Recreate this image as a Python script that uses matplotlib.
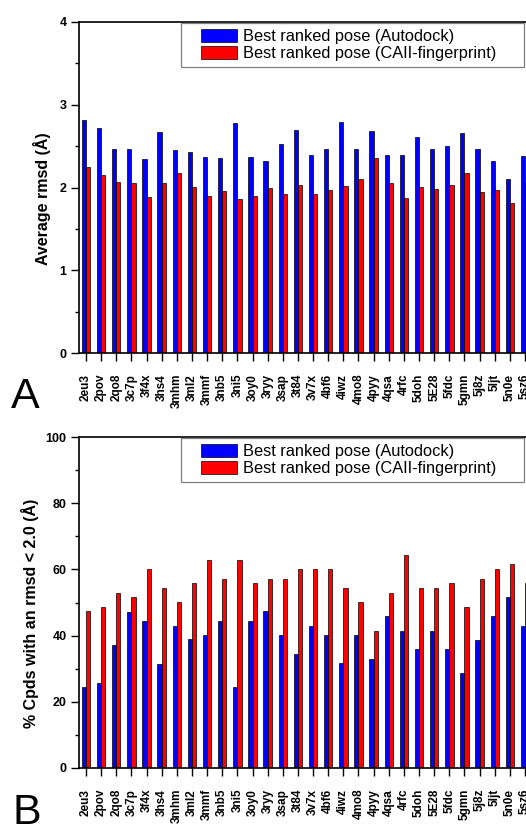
import matplotlib
matplotlib.use("Agg")
import matplotlib.pyplot as plt
import numpy as np
from matplotlib.patches import Rectangle
from matplotlib.legend_handler import HandlerPatch

plt.rcParams['font.family'] = ['Liberation Sans', 'DejaVu Sans']

# PDB targets
targets = ['2eu3', '2pov', '2qo8', '3c7p', '3f4x', '3hs4', '3mhm', '3ml2', '3mmf', '3nb5',
           '3ni5', '3oy0', '3ryy', '3sap', '3t84', '3v7x', '4bf6', '4iwz', '4mo8', '4pyy',
           '4qsa', '4rfc', '5doh', '5E28', '5fdc', '5gmn', '5j8z', '5ljt', '5n0e', '5sz6']

# panel A: average rmsd
rmsd_autodock = [2.82, 2.72, 2.47, 2.46, 2.34, 2.67, 2.45, 2.43, 2.37, 2.36,
                 2.78, 2.37, 2.32, 2.52, 2.70, 2.39, 2.47, 2.79, 2.47, 2.68,
                 2.39, 2.39, 2.61, 2.47, 2.50, 2.66, 2.46, 2.32, 2.10, 2.38]
rmsd_caii = [2.25, 2.15, 2.07, 2.06, 1.89, 2.05, 2.18, 2.01, 1.90, 1.96,
             1.86, 1.90, 1.99, 1.92, 2.03, 1.92, 1.97, 2.02, 2.10, 2.36,
             2.05, 1.87, 2.01, 1.98, 2.03, 2.17, 1.95, 1.97, 1.81, 2.05]

# panel B: % compounds with rmsd < 2.0
pct_autodock = [24.4, 25.8, 37.3, 47.2, 44.5, 31.5, 42.9, 38.9, 40.1, 44.5,
                24.4, 44.5, 47.3, 40.1, 34.3, 42.9, 40.1, 31.6, 40.1, 32.9,
                45.8, 41.5, 35.9, 41.5, 35.9, 28.6, 38.7, 45.8, 51.7, 42.9]
pct_caii = [47.3, 48.7, 53.0, 51.6, 60.1, 54.3, 50.2, 55.8, 62.8, 57.2,
            62.8, 55.8, 57.2, 57.2, 60.1, 60.1, 60.1, 54.3, 50.2, 41.5,
            52.9, 64.4, 54.3, 54.3, 55.8, 48.6, 57.2, 60.1, 61.5, 55.8]

label_autodock = 'Best ranked pose (Autodock)'
label_caii = 'Best ranked pose (CAII-fingerprint)'

W, H = 526, 825
fig = plt.figure(figsize=(W / 100, H / 100), dpi=100)

x = np.arange(len(targets))
bw = 0.28
leg_fs = 11.8


def right_box(legend, orig_handle, xdescent, ydescent, width, height, fontsize):
    hw = 36 / 100 * 72  # handle box width in points
    return Rectangle((-xdescent + width - hw, -ydescent), hw, height)


def draw_panel(ax, blue, red, ymax, major, minor, ylabel, label_x):
    b1 = ax.bar(x, blue, width=-bw, align='edge', color='#0000ff', edgecolor='black', linewidth=0.5)
    b2 = ax.bar(x, red, width=bw, align='edge', color='#ff0000', edgecolor='black', linewidth=0.5)
    ax.set_xlim(-0.46, len(targets) - 1 + 0.46)
    ax.set_ylim(0, ymax)
    ax.set_yticks(np.arange(0, ymax + 0.01, major))
    ax.set_yticks(np.arange(minor, ymax, major), minor=True)
    ax.set_xticks(x)
    ax.set_xticklabels(targets, rotation=90, fontweight='bold', fontsize=8.5)
    for lab in ax.get_yticklabels():
        lab.set_fontweight('bold')
        lab.set_fontsize(9)
    ax.tick_params(axis='y', which='major', direction='out', length=6, width=1, pad=3)
    ax.tick_params(axis='y', which='minor', direction='out', length=3, width=1)
    ax.tick_params(axis='x', which='major', direction='out', length=6, width=1, pad=9)
    for s in ax.spines.values():
        s.set_linewidth(1.2)
    ax.set_ylabel(ylabel, fontweight='bold', fontsize=11.5)
    ax.yaxis.set_label_coords(label_x, 0.467)

    leg = ax.legend([b1.patches[0], b2.patches[0]], [label_autodock, label_caii],
                    loc='upper left', bbox_to_anchor=(0.225, 0.997, 0.757, 0), mode='expand',
                    borderaxespad=0, fontsize=leg_fs, handlelength=50 / 16.4, handleheight=0.79,
                    handletextpad=0.37, borderpad=0.37, labelspacing=0.12, fancybox=False,
                    handler_map={Rectangle: HandlerPatch(patch_func=right_box)})
    leg.get_frame().set_edgecolor('#606060')
    leg.get_frame().set_linewidth(0.9)


axA = fig.add_axes([79 / W, (H - 353) / H, 453 / W, 331 / H])
draw_panel(axA, rmsd_autodock, rmsd_caii, 4, 1, 0.5, 'Average rmsd (Å)', -0.062)

axB = fig.add_axes([79 / W, (H - 768) / H, 453 / W, 331 / H])
draw_panel(axB, pct_autodock, pct_caii, 100, 20, 10, '% Cpds with an rmsd < 2.0 (Å)', -0.088)

fig.text(11 / W, (H - 408) / H, 'A', fontsize=31, va='baseline', ha='left')
fig.text(13 / W, (H - 824) / H, 'B', fontsize=31, va='baseline', ha='left')

fig.savefig('out.png', dpi=100)
